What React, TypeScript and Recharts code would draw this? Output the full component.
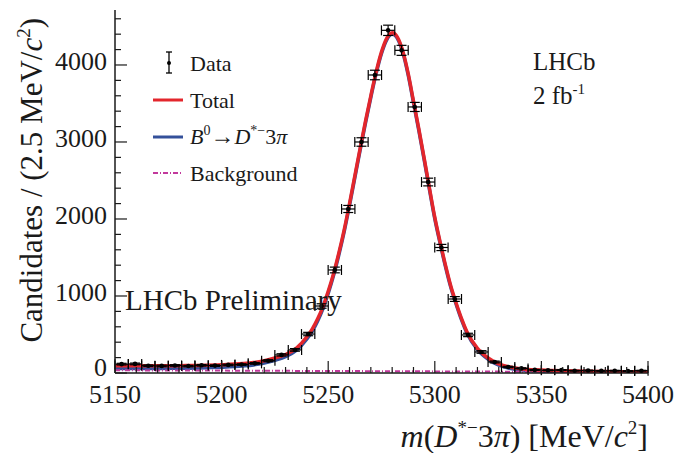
import React from 'react';
import { ComposedChart, Line, Scatter, ErrorBar, XAxis, YAxis } from 'recharts';

// bin centres (6.25 MeV bins) and measured candidates
const BIN_CENTERS = [
  5153.1, 5159.4, 5165.6, 5171.9, 5178.1, 5184.4, 5190.6, 5196.9, 5203.1, 5209.4,
  5215.6, 5221.9, 5228.1, 5234.4, 5240.6, 5246.9, 5253.1, 5259.4, 5265.6, 5271.9,
  5278.1, 5284.4, 5290.6, 5296.9, 5303.1, 5309.4, 5315.6, 5321.9, 5328.1, 5334.4,
  5340.6, 5346.9, 5353.1, 5359.4, 5365.6, 5371.9, 5378.1, 5384.4, 5390.6, 5396.9,
];
const COUNTS = [
  115, 118, 95, 92, 98, 90, 100, 96, 105, 110,
  125, 160, 235, 300, 506, 870, 1338, 2130, 3000, 3870,
  4450, 4190, 3455, 2480, 1630, 961, 494, 273, 143, 78,
  60, 40, 35, 38, 30, 32, 28, 30, 25, 30,
];
const COUNT_ERRORS = [
  11, 11, 10, 10, 10, 9, 10, 10, 10, 10,
  11, 13, 15, 17, 22, 29, 37, 46, 55, 62,
  67, 65, 59, 50, 40, 31, 22, 17, 12, 9,
  8, 6, 6, 6, 5, 6, 5, 5, 5, 5,
];
const HALF_BIN = 3.125;

// fit curves
const CURVE_X = [
  5150, 5160, 5170, 5180, 5190, 5200, 5210, 5215, 5220, 5225, 5230, 5235, 5240, 5242.5,
  5245, 5247.5, 5250, 5252.5, 5255, 5257.5, 5260, 5262.5, 5265, 5267.5, 5270, 5272.5,
  5275, 5277.5, 5280, 5282.5, 5285, 5287.5, 5290, 5292.5, 5295, 5297.5, 5300, 5302.5,
  5305, 5307.5, 5310, 5312.5, 5315, 5320, 5325, 5330, 5335, 5340, 5350, 5360, 5370,
  5380, 5390, 5400,
];
const TOTAL = [
  95, 93, 93, 95, 99, 107, 122, 136, 160, 195, 240, 320, 470, 570,
  700, 860, 1060, 1290, 1560, 1860, 2200, 2560, 2920, 3270, 3600, 3910,
  4170, 4350, 4420, 4360, 4180, 3890, 3530, 3170, 2790, 2400, 2020, 1700,
  1400, 1130, 910, 710, 540, 320, 195, 118, 78, 56, 38, 28, 23,
  19, 17, 15,
];
const SIGNAL = [
  60, 59, 59, 62, 66, 75, 91, 105, 130, 166, 211, 292, 442, 542,
  673, 834, 1034, 1265, 1536, 1836, 2177, 2538, 2898, 3249, 3579, 3890,
  4150, 4330, 4401, 4341, 4161, 3871, 3511, 3151, 2771, 2381, 2001, 1682,
  1382, 1112, 892, 692, 523, 303, 179, 102, 62, 41, 23, 14, 9,
  6, 4, 3,
];
const BKG_X = [5150, 5200, 5250, 5300, 5350, 5400];
const BKG = [35, 31, 26, 21, 16, 12];

const X_TICKS = [
  5150, 5160, 5170, 5180, 5190, 5200, 5210, 5220, 5230, 5240, 5250, 5260, 5270,
  5280, 5290, 5300, 5310, 5320, 5330, 5340, 5350, 5360, 5370, 5380, 5390, 5400,
];
const Y_TICKS = [
  0, 200, 400, 600, 800, 1000, 1200, 1400, 1600, 1800, 2000, 2200, 2400, 2600,
  2800, 3000, 3200, 3400, 3600, 3800, 4000, 4200, 4400, 4600,
];

const points = BIN_CENTERS.map((x, i) => ({ x, y: COUNTS[i], ey: COUNT_ERRORS[i], ex: HALF_BIN }));
const totalData = CURVE_X.map((x, i) => ({ x, y: TOTAL[i] }));
const signalData = CURVE_X.map((x, i) => ({ x, y: SIGNAL[i] }));
const bkgData = BKG_X.map((x, i) => ({ x, y: BKG[i] }));

const FONT = '"Liberation Serif", "DejaVu Serif", serif';
const INK = '#1a1a1a';
const RED = '#e3262c';
const BLUE = '#34509a';
const MAGENTA = '#c2399c';

const BottomTick = (props: any) => {
  const { x, y, payload } = props;
  const major = payload.value % 50 === 0;
  return (
    <g>
      <line x1={x} x2={x} y1={y} y2={y - (major ? 12 : 6)} stroke={INK} strokeWidth={1.2} />
      {major && (
        <text x={x} y={y + 21} textAnchor="middle" dominantBaseline="central" fontSize={26} fontFamily={FONT} fill={INK}>
          {payload.value}
        </text>
      )}
    </g>
  );
};

const TopTick = (props: any) => {
  const { x, y, payload } = props;
  const major = payload.value % 50 === 0;
  return <line x1={x} x2={x} y1={y} y2={y + (major ? 12 : 6)} stroke={INK} strokeWidth={1.2} />;
};

const LeftTick = (props: any) => {
  const { x, y, payload } = props;
  const major = payload.value % 1000 === 0;
  return (
    <g>
      <line x1={x} x2={x + (major ? 12 : 6)} y1={y} y2={y} stroke={INK} strokeWidth={1.2} />
      {major && (
        <text x={x - 8} y={payload.value === 0 ? y - 6 : y - 3} textAnchor="end" dominantBaseline="central" fontSize={26} fontFamily={FONT} fill={INK}>
          {payload.value}
        </text>
      )}
    </g>
  );
};

const RightTick = (props: any) => {
  const { x, y, payload } = props;
  const major = payload.value % 1000 === 0;
  return <line x1={x} x2={x - (major ? 12 : 6)} y1={y} y2={y} stroke={INK} strokeWidth={1.2} />;
};

const Dot = (props: any) => <circle cx={props.cx} cy={props.cy} r={2.3} fill="#000" />;

export default function App() {
  return (
    <div style={{ position: 'absolute', left: 0, top: 0, width: 678, height: 453, background: '#fff' }}>
      <ComposedChart width={678} height={453} margin={{ top: 10, right: 30, bottom: 0, left: 0 }}>
        <XAxis
          xAxisId="b"
          dataKey="x"
          type="number"
          domain={[5150, 5400]}
          allowDataOverflow
          ticks={X_TICKS}
          interval={0}
          height={80}
          tickSize={0}
          tickMargin={0}
          tickLine={false}
          tick={<BottomTick />}
          axisLine={{ stroke: INK, strokeWidth: 1.5 }}
        />
        <XAxis
          xAxisId="t"
          orientation="top"
          dataKey="x"
          type="number"
          domain={[5150, 5400]}
          allowDataOverflow
          ticks={X_TICKS}
          interval={0}
          height={0}
          tickSize={0}
          tickMargin={0}
          tickLine={false}
          tick={<TopTick />}
          axisLine={{ stroke: INK, strokeWidth: 1.5 }}
        />
        <YAxis
          yAxisId="l"
          type="number"
          domain={[0, 4714]}
          allowDataOverflow
          ticks={Y_TICKS}
          interval={0}
          width={115}
          tickSize={0}
          tickMargin={0}
          tickLine={false}
          tick={<LeftTick />}
          axisLine={{ stroke: INK, strokeWidth: 1.5 }}
        />
        <YAxis
          yAxisId="r"
          orientation="right"
          type="number"
          domain={[0, 4714]}
          allowDataOverflow
          ticks={Y_TICKS}
          interval={0}
          width={0}
          tickSize={0}
          tickMargin={0}
          tickLine={false}
          tick={<RightTick />}
          axisLine={{ stroke: INK, strokeWidth: 1.5 }}
        />
        <Line xAxisId="b" yAxisId="l" data={signalData} dataKey="y" type="monotone" stroke={BLUE} strokeWidth={3.5} dot={false} isAnimationActive={false} />
        <Line xAxisId="b" yAxisId="l" data={bkgData} dataKey="y" type="monotone" stroke={MAGENTA} strokeWidth={2} strokeDasharray="5 2 1 2" dot={false} isAnimationActive={false} />
        <Line xAxisId="b" yAxisId="l" data={totalData} dataKey="y" type="monotone" stroke={RED} strokeWidth={3.5} dot={false} isAnimationActive={false} />
        <Scatter xAxisId="b" yAxisId="l" data={points} dataKey="y" shape={<Dot />} isAnimationActive={false}>
          <ErrorBar dataKey="ey" direction="y" width={5} stroke="#000" strokeWidth={1.2} />
          <ErrorBar dataKey="ex" direction="x" width={5} stroke="#000" strokeWidth={1.2} />
        </Scatter>
      </ComposedChart>
      <svg width={678} height={453} style={{ position: 'absolute', left: 0, top: 0, pointerEvents: 'none' }} fontFamily={FONT} fill={INK}>
        {/* legend */}
        <line x1={169} x2={169} y1={52} y2={73} stroke="#000" strokeWidth={1.3} />
        <line x1={166} x2={172} y1={52} y2={52} stroke="#000" strokeWidth={1.3} />
        <line x1={166} x2={172} y1={73} y2={73} stroke="#000" strokeWidth={1.3} />
        <circle cx={169} cy={63} r={2} fill="#000" />
        <text x={190} y={63} fontSize={22} dominantBaseline="central">Data</text>
        <line x1={153} x2={183} y1={100} y2={100} stroke={RED} strokeWidth={3} />
        <text x={190} y={100} fontSize={22} dominantBaseline="central">Total</text>
        <line x1={153} x2={183} y1={137} y2={137} stroke={BLUE} strokeWidth={3} />
        <text x={190} y={144} fontSize={22}>
          <tspan fontStyle="italic">B</tspan>
          <tspan fontSize={14} dy={-9}>0</tspan>
          <tspan dy={9} fontSize={24}>→</tspan>
          <tspan fontStyle="italic">D</tspan>
          <tspan fontSize={14} dy={-9}>*−</tspan>
          <tspan dy={9}>3</tspan>
          <tspan fontStyle="italic">π</tspan>
        </text>
        <line x1={153} x2={183} y1={173} y2={173} stroke={MAGENTA} strokeWidth={2} strokeDasharray="5 2 1 2" />
        <text x={190} y={173} fontSize={22} dominantBaseline="central">Background</text>

        {/* labels */}
        <text x={533} y={70} fontSize={25}>LHCb</text>
        <text x={533} y={104} fontSize={25}>
          2 fb<tspan fontSize={15} dy={-10}>-1</tspan>
        </text>
        <text x={125} y={300} fontSize={29} dominantBaseline="central">LHCb Preliminary</text>

        {/* axis titles */}
        <text x={648} y={447} fontSize={32} textAnchor="end">
          <tspan fontStyle="italic">m</tspan>
          <tspan>(</tspan>
          <tspan fontStyle="italic">D</tspan>
          <tspan fontSize={19} dy={-13}>*−</tspan>
          <tspan dy={13}>3</tspan>
          <tspan fontStyle="italic">π</tspan>
          <tspan>) [MeV/</tspan>
          <tspan fontStyle="italic">c</tspan>
          <tspan fontSize={19} dy={-13}>2</tspan>
          <tspan dy={13}>]</tspan>
        </text>
        <text transform="translate(42,18) rotate(-90)" fontSize={31} textAnchor="end">
          Candidates / (2.5 MeV/<tspan fontStyle="italic">c</tspan>
          <tspan fontSize={19} dy={-12}>2</tspan>
          <tspan dy={12}>)</tspan>
        </text>
      </svg>
    </div>
  );
}
